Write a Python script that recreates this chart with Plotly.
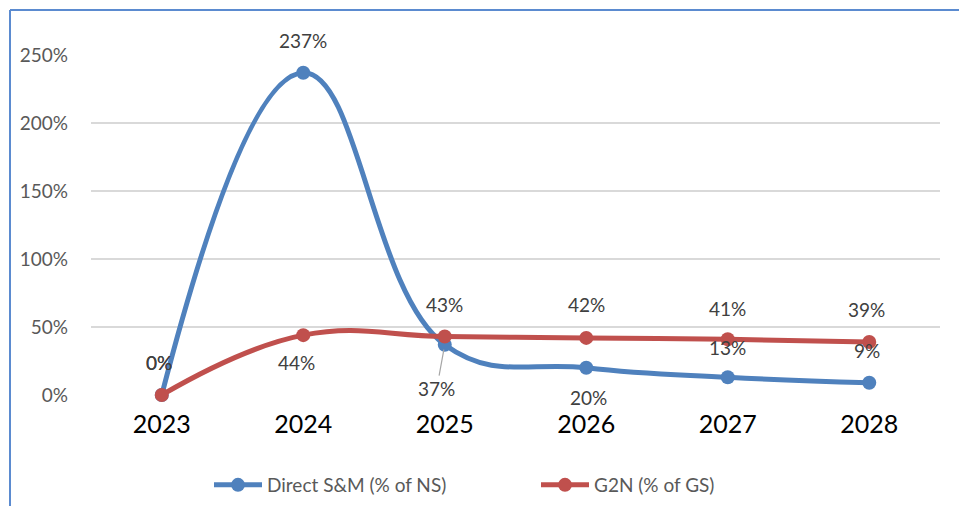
import plotly.graph_objects as go

# Chart data
years = ["2023", "2024", "2025", "2026", "2027", "2028"]
direct_sm = [0, 237, 37, 20, 13, 9]      # Direct S&M (% of NS)
g2n = [0, 44, 43, 42, 41, 39]            # G2N (% of GS)
y_ticks = [0, 50, 100, 150, 200, 250]

BLUE = "#4F81BD"
RED = "#C0504D"
FONT = "Lato"

W, H = 959, 506
ML, MR, MT, MB = 91, 19, 55, 111

fig = go.Figure()
fig.add_trace(go.Scatter(
    x=years, y=direct_sm, name="Direct S&M (% of NS)",
    mode="lines+markers",
    line=dict(color=BLUE, width=5, shape="spline", smoothing=1.2),
    marker=dict(color=BLUE, size=14),
    cliponaxis=False,
))
fig.add_trace(go.Scatter(
    x=years, y=g2n, name="G2N (% of GS)",
    mode="lines+markers",
    line=dict(color=RED, width=5, shape="spline", smoothing=1.2),
    marker=dict(color=RED, size=14),
    cliponaxis=False,
))

# Data labels: (xshift, yshift) in px for each point
blue_off = [(-3, 33), (0, 32), None, (2, -30), (0, 30), (-2, 32)]
red_off = [(-3, 33), (-7, -27), (0, 32), (0, 33), (0, 31), (-3, 32)]

label_font = dict(family=FONT, size=19, color="#404040")
for series, offs in ((direct_sm, blue_off), (g2n, red_off)):
    for i, (v, off) in enumerate(zip(series, offs)):
        if off is None:
            continue
        # category index used as the x position of the label
        fig.add_annotation(x=i, y=v, text=f"{v}%", showarrow=False,
                           xshift=off[0], yshift=off[1], font=label_font)

# 2025 Direct S&M label sits below the point with a leader line
fig.add_annotation(x=2, y=direct_sm[2], text=f"{direct_sm[2]}%",
                   showarrow=True, arrowhead=0, arrowwidth=1.2,
                   arrowcolor="#A6A6A6", ax=-8, ay=44, standoff=5,
                   font=label_font)

# Frame lines on the left and top of the chart area
def px_x(p):
    return (p - ML) / (W - ML - MR)

def px_y(p):
    return (H - MB - p) / (H - MT - MB)

frame = dict(color="#5B8BD0", width=2)
fig.add_shape(type="line", xref="paper", yref="paper",
              x0=px_x(10), x1=px_x(10), y0=px_y(10), y1=px_y(H + 2), line=frame)
fig.add_shape(type="line", xref="paper", yref="paper",
              x0=px_x(10), x1=px_x(W + 2), y0=px_y(10), y1=px_y(10), line=frame)

fig.update_layout(
    width=W, height=H,
    margin=dict(l=ML, r=MR, t=MT, b=MB, autoexpand=False),
    paper_bgcolor="white", plot_bgcolor="white",
    font=dict(family=FONT),
    showlegend=True,
    legend=dict(orientation="h", x=px_x(209), xanchor="left", y=px_y(485), yanchor="middle",
                font=dict(family=FONT, size=19, color="#595959"),
                itemwidth=48, entrywidth=264, traceorder="normal"),
    xaxis=dict(type="category", range=[-0.5, 5.5], showgrid=False,
               showline=False, zeroline=False, ticks="",
               tickfont=dict(family=FONT, size=25, color="black"),
               ticklabelstandoff=12),
    yaxis=dict(range=[0, 250], tickvals=y_ticks,
               ticktext=[f"{t}%" for t in y_ticks],
               showgrid=True, gridcolor="#D9D9D9", gridwidth=1.5,
               zeroline=False, showline=False, ticks="",
               tickfont=dict(family=FONT, size=19, color="#595959"),
               ticklabelstandoff=22),
)

fig.write_html("out.html")
